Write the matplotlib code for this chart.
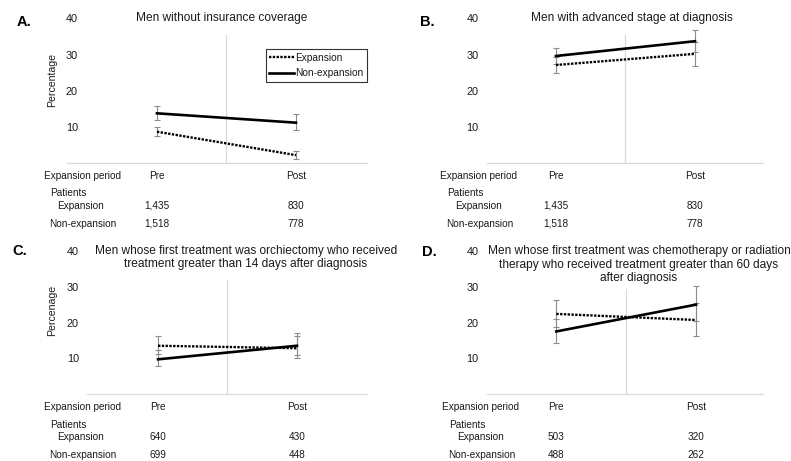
import matplotlib
matplotlib.use("Agg")  # no display in the sandbox
import matplotlib.pyplot as plt

plt.rcParams["font.family"] = ["Liberation Sans", "DejaVu Sans"]

# ── data ──
periods = ["Pre", "Post"]
period_x = [0, 1]

letters = ["A.", "B.", "C.", "D."]
titles = [
    "Men without insurance coverage",
    "Men with advanced stage at diagnosis",
    "Men whose first treatment was orchiectomy who received\n"
    "treatment greater than 14 days after diagnosis",
    "Men whose first treatment was chemotherapy or radiation\n"
    "therapy who received treatment greater than 60 days\n"
    "after diagnosis",
]
ylabels = ["Percentage", None, "Percenage", None]

# percentages per panel (Pre, Post)
exp_pct = [[8.6, 2.1], [27.1, 30.2], [13.5, 12.8], [22.4, 20.7]]
exp_lo = [[7.4, 1.0], [25.0, 26.8], [11.1, 10.9], [18.7, 16.1]]
exp_hi = [[10.0, 3.2], [29.2, 33.6], [16.3, 16.3], [26.2, 25.4]]

non_pct = [[13.7, 11.1], [29.6, 33.7], [9.7, 13.5], [17.5, 25.0]]
non_lo = [[11.9, 9.1], [27.4, 30.7], [7.7, 10.2], [14.4, 20.3]]
non_hi = [[15.7, 13.4], [31.8, 36.7], [12.3, 17.2], [20.9, 30.1]]

# patient counts per panel (Pre, Post)
exp_n = [[1435, 830], [1435, 830], [640, 430], [503, 320]]
non_n = [[1518, 778], [1518, 778], [699, 448], [488, 262]]

y_ticks = [10, 20, 30, 40]
row_labels = ["Expansion period", "Patients", "Expansion", "Non-expansion"]

# ── layout (pixels) ──
W, H = 791, 461
TXT = "#1a1a1a"
GRID = "#d9d9d9"

# left, top, right, bottom of plot area; xlim; separator top; tick pad (pt)
panels = [
    dict(rect=(67, 18.5, 367, 162.7), xlim=(-0.647, 1.511), vtop=35.4, pad=-7.9,
         letter=(24, 22), title=(222, 18), col=82, ylab=(52, 80)),
    dict(rect=(487, 18.5, 763, 162.7), xlim=(-0.496, 1.489), vtop=35.4, pad=6.2,
         letter=(427, 22), title=(632, 18), col=479, ylab=None),
    dict(rect=(87, 251, 367, 394), xlim=(-0.511, 1.504), vtop=31.9, pad=5.8,
         letter=(20, 251), title=(246, 257.5), col=82, ylab=(52, 310)),
    dict(rect=(487, 251, 763, 394), xlim=(-0.496, 1.479), vtop=29.4, pad=6.2,
         letter=(429, 252), title=(639, 264.5), col=481, ylab=None),
]
row_dy = [13, 30.5, 43, 61]
row_dx = [0, -14, -1, 1]


def fx(x):
    return x / W


def fy(y):
    return 1 - y / H


fig = plt.figure(figsize=(W / 100, H / 100), dpi=100)

for i, p in enumerate(panels):
    l, t, r, b = p["rect"]
    ax = fig.add_axes([fx(l), fy(b), (r - l) / W, (b - t) / H])
    ax.set_xlim(*p["xlim"])
    ax.set_ylim(0, 40)

    # separator between periods
    ax.axvline((period_x[0] + period_x[1]) / 2, ymax=p["vtop"] / 40,
               color=GRID, lw=0.9, zorder=1)

    ax.errorbar(period_x, exp_pct[i],
                yerr=[[v - lo for v, lo in zip(exp_pct[i], exp_lo[i])],
                      [hi - v for v, hi in zip(exp_pct[i], exp_hi[i])]],
                fmt="none", ecolor="#8c8c8c", elinewidth=0.8,
                capsize=2, capthick=0.8, zorder=2)
    ax.errorbar(period_x, non_pct[i],
                yerr=[[v - lo for v, lo in zip(non_pct[i], non_lo[i])],
                      [hi - v for v, hi in zip(non_pct[i], non_hi[i])]],
                fmt="none", ecolor="#8c8c8c", elinewidth=0.8,
                capsize=2, capthick=0.8, zorder=2)
    ax.plot(period_x, exp_pct[i], color="black", lw=1.7,
            ls=(0, (1, 0.6)), label="Expansion", zorder=3)
    ax.plot(period_x, non_pct[i], color="black", lw=1.9,
            label="Non-expansion", zorder=3)

    ax.set_xticks([])
    ax.set_yticks(y_ticks)
    ax.tick_params(axis="y", length=0, pad=p["pad"], labelsize=7.8,
                   labelcolor=TXT)
    for s in ("top", "right", "left"):
        ax.spines[s].set_visible(False)
    ax.spines["bottom"].set_color(GRID)
    ax.spines["bottom"].set_linewidth(0.9)
    ax.patch.set_alpha(0)

    fig.text(fx(p["letter"][0]), fy(p["letter"][1]), letters[i],
             fontsize=10.5, fontweight="bold", ha="center", va="center",
             color="black")
    fig.text(fx(p["title"][0]), fy(p["title"][1]), titles[i],
             fontsize=8.6, ha="center", va="center", color=TXT,
             linespacing=1.13)
    if ylabels[i]:
        fig.text(fx(p["ylab"][0]), fy(p["ylab"][1]), ylabels[i],
                 fontsize=7.6, rotation=90, ha="center", va="center",
                 color=TXT)

    # patient table under the axis
    for lab, dy, dx in zip(row_labels, row_dy, row_dx):
        fig.text(fx(p["col"] + dx), fy(b + dy), lab, fontsize=7.2,
                 ha="center", va="center", color=TXT)
    rows = [periods, [f"{n:,}" for n in exp_n[i]], [f"{n:,}" for n in non_n[i]]]
    for vals, dy in zip(rows, [row_dy[0], row_dy[2], row_dy[3]]):
        for xv, txt in zip(period_x, vals):
            ax.annotate(txt, xy=(xv, 0), xycoords=("data", "axes fraction"),
                        xytext=(0, -dy * 0.72), textcoords="offset points",
                        ha="center", va="center", fontsize=7.2, color=TXT,
                        annotation_clip=False)

    if i == 0:
        leg = ax.legend(loc="upper right", bbox_to_anchor=(fx(367), fy(49)),
                        bbox_transform=fig.transFigure, fontsize=7.3,
                        frameon=True, fancybox=False, framealpha=1,
                        edgecolor="#333333", handlelength=2.4,
                        handletextpad=0.15, borderpad=0.35,
                        labelspacing=0.55, borderaxespad=0)
        leg.get_frame().set_linewidth(0.8)
        for txt in leg.get_texts():
            txt.set_color(TXT)

fig.savefig("out.png", dpi=100)
